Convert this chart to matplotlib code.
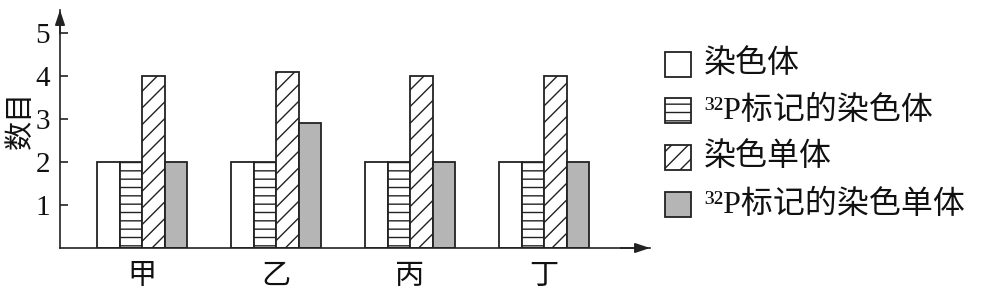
import matplotlib
matplotlib.use("Agg")
import matplotlib.pyplot as plt
from matplotlib.patches import Rectangle
import numpy as np

plt.rcParams['font.family'] = ['Liberation Serif', 'Noto Sans CJK SC']
plt.rcParams['hatch.linewidth'] = 1.0

groups = ['甲', '乙', '丙', '丁']
chromosome = [2, 2, 2, 2]
labeled_chromosome = [2, 2, 2, 2]
chromatid = [4, 4.1, 4, 4]
labeled_chromatid = [2, 2.9, 2, 2]
series_labels = ['染色体', '³²P标记的染色体', '染色单体', '³²P标记的染色单体']
yticks = [1, 2, 3, 4, 5]
ylabel = '数目'

series = [chromosome, labeled_chromosome, chromatid, labeled_chromatid]
faces = ['white', 'white', 'white', '#b5b5b5']
hatches = [None, '--', '//', None]
edge = '#222222'

W, H = 981, 295
fig = plt.figure(figsize=(W / 100, H / 100), dpi=100)
x0, x1, yb, yt = 60, 650, 248, 10
ax = fig.add_axes([x0 / W, (H - yb) / H, (x1 - x0) / W, (yb - yt) / H])

unit = 43.0
ax.set_ylim(0, (yb - yt) / unit)
spacing = 134.0
ax.set_xlim(-(142 - x0) / spacing, (x1 - 142) / spacing)

bw = 22.5 / spacing
x = np.arange(len(groups))
for i, (vals, fc, h) in enumerate(zip(series, faces, hatches)):
    ax.bar(x + (i - 1.5) * bw, vals, width=bw, facecolor=fc, edgecolor=edge,
           hatch=h, linewidth=1.3, zorder=2)

for s in ['top', 'right']:
    ax.spines[s].set_visible(False)
for s in ['left', 'bottom']:
    ax.spines[s].set_linewidth(1.2)
    ax.spines[s].set_color(edge)

# axis arrows
ax.annotate('', xy=(0, 1.0), xycoords='axes fraction', xytext=(0, 0.9),
            arrowprops=dict(arrowstyle='-|>,head_length=0.9,head_width=0.3',
                            color=edge, lw=1.2, shrinkA=0, shrinkB=0))
ax.annotate('', xy=(1.0, 0), xycoords='axes fraction', xytext=(0.95, 0),
            arrowprops=dict(arrowstyle='-|>,head_length=0.9,head_width=0.3',
                            color=edge, lw=1.2, shrinkA=0, shrinkB=0))

ax.set_yticks(yticks)
ax.set_yticklabels([str(v) for v in yticks], fontsize=21,
                   family='Liberation Serif')
ax.tick_params(axis='y', direction='in', length=6, width=1.2, pad=7,
               colors=edge, labelcolor='#111111')
ax.set_xticks(x)
ax.set_xticklabels(groups, fontsize=21, family='Noto Sans CJK SC')
ax.tick_params(axis='x', length=0, pad=9, labelcolor='#111111')
ax.set_ylabel(ylabel, fontsize=21, family='Noto Sans CJK SC',
              color='#111111')
ax.yaxis.set_label_coords((36 - x0) / (x1 - x0), (yb - 120) / (yb - yt))

# legend (manual)
rows_y = [64.5, 110.5, 157.5, 204.5]
for ry, lab, fc, h in zip(rows_y, series_labels, faces, hatches):
    r = Rectangle((665 / W, (H - ry - 12.5) / H), 26 / W, 25 / H,
                  transform=fig.transFigure, facecolor=fc, edgecolor=edge,
                  hatch=h, linewidth=1.3)
    fig.add_artist(r)
    fig.text(704 / W, (H - ry) / H, lab, fontsize=23, va='center', ha='left',
             family=['Liberation Serif', 'Noto Sans CJK SC'], color='#111111')

fig.savefig('out.png', dpi=100)
